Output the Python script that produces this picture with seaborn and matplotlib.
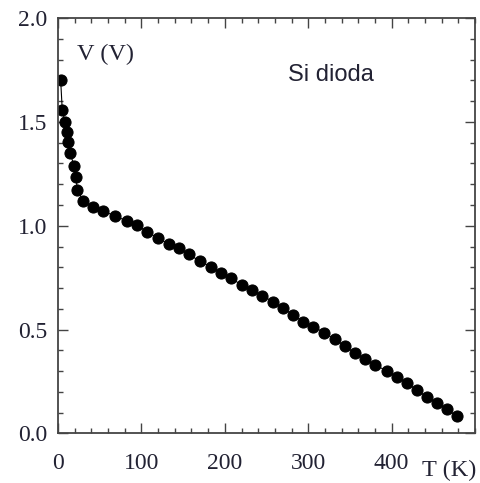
import pandas as pd
import matplotlib
matplotlib.use("Agg")
import matplotlib.pyplot as plt
from matplotlib.ticker import MultipleLocator
import seaborn as sns

# temperature (K) and diode voltage (V)
temperature = [3.2, 5.1, 8.4, 10.4, 12.3, 14.4, 19.5, 21.6, 23.1, 30.3, 42.3, 54.5,
               68.3, 82.3, 94.3, 107, 120, 133, 145, 157, 170, 183, 195, 208, 220,
               233, 245, 258, 270, 282, 294, 306, 319, 332, 344, 356, 368, 380,
               394, 406, 418, 430, 442, 454, 466, 478]
voltage = [1.70, 1.557, 1.50, 1.453, 1.405, 1.349, 1.288, 1.233, 1.172, 1.12, 1.09,
           1.071, 1.047, 1.024, 1.004, 0.971, 0.940, 0.912, 0.891, 0.862, 0.830,
           0.803, 0.774, 0.747, 0.715, 0.691, 0.662, 0.635, 0.603, 0.571, 0.539,
           0.515, 0.486, 0.453, 0.421, 0.386, 0.357, 0.330, 0.302, 0.273, 0.245,
           0.209, 0.177, 0.148, 0.117, 0.084]
x_ticks = [0, 100, 200, 300, 400]
y_ticks = [0.0, 0.5, 1.0, 1.5, 2.0]

df = pd.DataFrame({'T': temperature, 'V': voltage})

sns.set_style("ticks")
plt.rcParams['font.family'] = ['Liberation Serif', 'DejaVu Serif']
text_color = '#222233'

fig = plt.figure(figsize=(4.81, 4.83), dpi=100)
ax = fig.add_axes([0.1206, 0.1025, 0.867, 0.86])

sns.lineplot(data=df, x='T', y='V', ax=ax, color='black', linewidth=0.8,
             marker='o', markersize=8, markeredgecolor='black', sort=False)

ax.set_xlim(0, 500)
ax.set_ylim(0, 2.0)
ax.set_xticks(x_ticks)
ax.set_yticks(y_ticks)
ax.set_yticklabels([f'{v:.1f}' for v in y_ticks])
ax.xaxis.set_minor_locator(MultipleLocator(20))
ax.yaxis.set_minor_locator(MultipleLocator(0.1))
ax.tick_params(which='both', direction='in', top=True, right=True,
               colors='#444444', labelcolor=text_color, labelsize=17, width=1.0)
ax.tick_params(which='major', length=7)
ax.tick_params(which='minor', length=3.5)
ax.tick_params(axis='x', pad=14)
ax.tick_params(axis='y', pad=8)
for s in ax.spines.values():
    s.set_linewidth(1.3)
    s.set_color('#444444')

ax.set_xlabel('')
ax.set_ylabel('')
ax.text(0.046, 0.913, 'V (V)', transform=ax.transAxes, fontsize=17.5,
        color=text_color, va='center')
ax.text(0.552, 0.863, 'Si dioda', transform=ax.transAxes, fontsize=17,
        color=text_color, va='center', family=['Liberation Sans', 'DejaVu Sans'])
fig.text(0.878, 0.027, 'T (K)', fontsize=17.5, color=text_color, va='center')

fig.savefig('out.png', dpi=100)
